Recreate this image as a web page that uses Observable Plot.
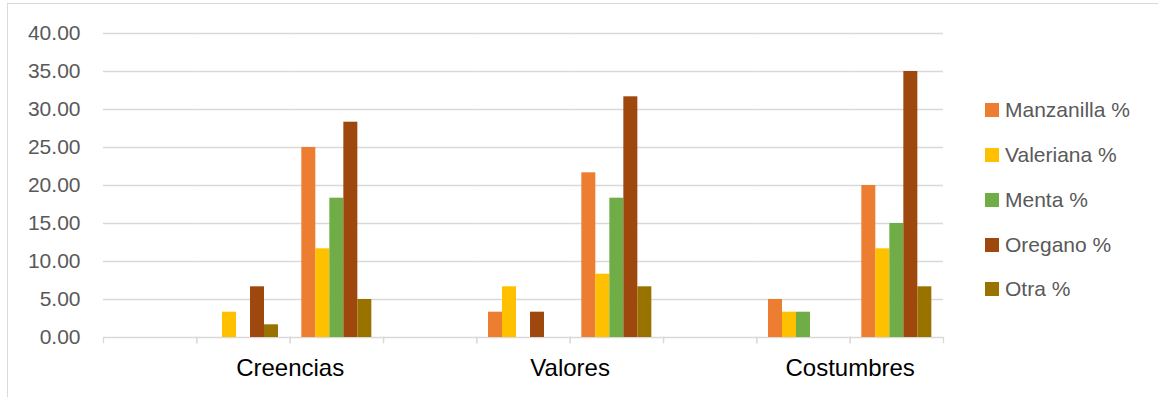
<!DOCTYPE html>
<html>
<head>
<meta charset="utf-8">
<script src="https://cdn.jsdelivr.net/npm/d3@7"></script>
<script src="https://cdn.jsdelivr.net/npm/@observablehq/plot@0.6"></script>
<style>
  html, body { margin: 0; padding: 0; background: #fff; overflow: hidden; }
  #wrap { position: relative; width: 1158px; height: 397px; font-family: "Liberation Sans", Arial, sans-serif; }
  #border { position: absolute; left: 7px; top: 3px; width: 1300px; height: 600px;
            border-left: 1.5px solid #d9d9d9; border-top: 1.5px solid #d9d9d9; }
  #chart { position: absolute; left: 0; top: 0; }
  #legend { position: absolute; left: 985px; top: 88px; display: flex; flex-direction: column; }
  .item { display: flex; align-items: center; height: 44.75px; font-size: 21px; color: #595959; white-space: nowrap; }
  .sw { width: 14px; height: 14px; margin-right: 6px; flex: none; }
</style>
</head>
<body>
<div id="wrap">
  <div id="border"></div>
  <div id="chart"></div>
  <div id="legend"></div>
</div>
<script>
// Main categories; each spans three unlabeled sub-groups (the first one holds no bars)
const categories = ["Creencias", "Valores", "Costumbres"];
const subgroups = ["1", "2", "3"];
const series = ["Manzanilla %", "Valeriana %", "Menta %", "Oregano %", "Otra %"];
const colors = ["#ED7D31", "#FFC000", "#70AD47", "#9E480E", "#997300"];

// values per slot: Creencias 1-3, Valores 1-3, Costumbres 1-3
const manzanilla = [null, 0,    25,    null, 3.33, 21.67, null, 5,    20];
const valeriana  = [null, 3.33, 11.67, null, 6.67, 8.33,  null, 3.33, 11.67];
const menta      = [null, 0,    18.33, null, 0,    18.33, null, 3.33, 15];
const oregano    = [null, 6.67, 28.33, null, 3.33, 31.67, null, 0,    35];
const otra       = [null, 1.67, 5,     null, 0,    6.67,  null, 0,    6.67];
const yTicks = [0, 5, 10, 15, 20, 25, 30, 35, 40];

const seriesValues = [manzanilla, valeriana, menta, oregano, otra];
const slots = categories.flatMap(c => subgroups.map(s => c + "-" + s));
const data = [];
slots.forEach((slot, i) => {
  seriesValues.forEach((vals, j) => {
    data.push({slot, series: series[j], value: vals[i]});
  });
});
// category label sits at the start of the third sub-group
const labelData = categories.map(c => ({slot: c + "-3", label: c}));

const W = 1158, H = 397, mL = 103, mR = 215, mT = 33, mB = 60;

const chart = Plot.plot({
  width: W,
  height: H,
  marginLeft: mL,
  marginRight: mR,
  marginTop: mT,
  marginBottom: mB,
  style: {fontFamily: "Liberation Sans, Arial, sans-serif", fontSize: "21px", color: "#595959", background: "transparent", overflow: "visible"},
  fx: {domain: slots, padding: 0, axis: null, round: false},
  x: {domain: series, paddingInner: 0, paddingOuter: 0.833, axis: null, round: false},
  y: {domain: [0, 40], label: null},
  color: {domain: series, range: colors},
  marks: [
    Plot.gridY(yTicks, {stroke: "#d9d9d9", strokeOpacity: 1, strokeWidth: 1.3}),
    Plot.axisY(yTicks, {label: null, tickSize: 0, tickPadding: 23, tickFormat: d => d.toFixed(2), fontSize: 21, fill: "#595959"}),
    Plot.frame({anchor: "left", stroke: "#d9d9d9", strokeWidth: 1.3, insetTop: H - mT - mB, insetBottom: -5}),
    Plot.frame({anchor: "right", stroke: "#d9d9d9", strokeWidth: 1.3, insetTop: H - mT - mB, insetBottom: -5}),
    Plot.barY(data, {fx: "slot", x: "series", y: "value", fill: "series"}),
    Plot.text(labelData, {fx: "slot", text: "label", frameAnchor: "bottom-left", textAnchor: "middle", lineAnchor: "middle", dy: 31, fontSize: 24, fill: "#000"})
  ]
});
document.getElementById("chart").appendChild(chart);

const legend = document.getElementById("legend");
series.forEach((s, i) => {
  const item = document.createElement("div");
  item.className = "item";
  const sw = document.createElement("span");
  sw.className = "sw";
  sw.style.background = colors[i];
  const t = document.createElement("span");
  t.textContent = s;
  item.appendChild(sw);
  item.appendChild(t);
  legend.appendChild(item);
});
</script>
</body>
</html>
